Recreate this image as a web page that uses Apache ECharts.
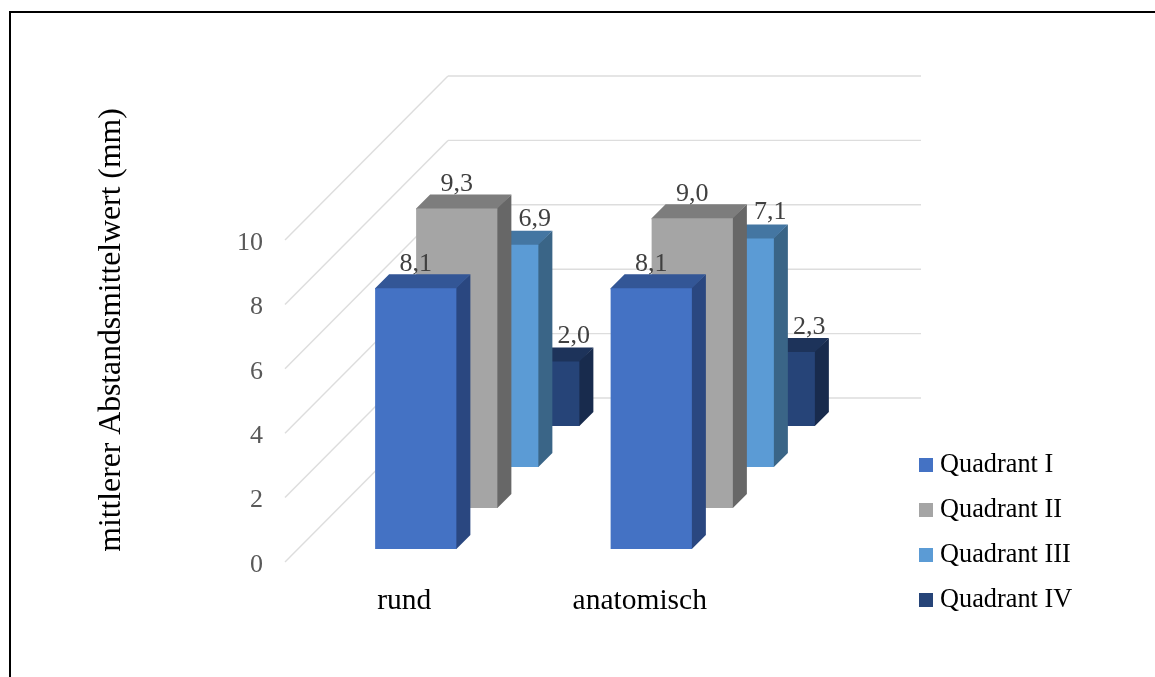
<!DOCTYPE html>
<html>
<head>
<meta charset="utf-8">
<style>html,body{margin:0;padding:0;background:#fff}#chart{width:1155px;height:677px}</style>
<script src="https://cdn.jsdelivr.net/npm/echarts@6/dist/echarts.min.js"></script>
</head>
<body>
<div id="chart"></div>
<script>
// Mean distance per quadrant for the two shapes
const categories = ['rund', 'anatomisch'];
const seriesNames = ['Quadrant I', 'Quadrant II', 'Quadrant III', 'Quadrant IV'];
const quadrantI = [8.1, 8.1];
const quadrantII = [9.3, 9.0];
const quadrantIII = [6.9, 7.1];
const quadrantIV = [2.0, 2.3];
const yTicks = [0, 2, 4, 6, 8, 10];

const FONT = '"Liberation Serif","Times New Roman",serif';
const FRONT = ['#4472C4', '#A5A5A5', '#5B9BD5', '#264478'];
const TOP = ['#335696', '#7D7D7D', '#4476A2', '#1D335A'];
const SIDE = ['#2A4780', '#676767', '#3A6587', '#182B4D'];
// Oblique depth of each bar row, of one bar, and of the whole floor
const ROW_DEPTH = [13, 54, 95, 136];
const BAR_DEPTH = 14;
const WALL_DX = 163;
const WALL_DY = 164;
const WALL_WIDTH = 473;
const BAR_RATIO = 0.345;
// Per-row shift of the value labels relative to the bar's front centre
const LABEL_DX = [0, 0, 37, 35];
const LABEL_DY = [3, 3, 1, 2];

function barRenderer(row) {
  return function (params, api) {
    const idx = api.value(0), val = api.value(1);
    const d = ROW_DEPTH[row];
    const base = api.coord([idx, 0]);
    const top = api.coord([idx, val]);
    const w = api.size([1, 0])[0] * BAR_RATIO;
    const x0 = base[0] + d - w / 2, x1 = x0 + w;
    const yb = base[1] - d, yt = top[1] - d;
    const k = BAR_DEPTH;
    return {
      type: 'group',
      children: [
        // Side and top faces run a pixel under the front face so no seam shows
        { type: 'polygon', shape: { points: [[x1 - 1, yt], [x1 + k, yt - k], [x1 + k, yb - k], [x1, yb], [x1 - 1, yb]] }, style: { fill: SIDE[row] } },
        { type: 'polygon', shape: { points: [[x0, yt + 1], [x0, yt], [x0 + k, yt - k], [x1 + k, yt - k], [x1, yt], [x1, yt + 1]] }, style: { fill: TOP[row] } },
        { type: 'rect', shape: { x: x0, y: yt, width: w, height: yb - yt }, style: { fill: FRONT[row] } },
        { type: 'text', x: base[0] + d + LABEL_DX[row], y: yt - k + LABEL_DY[row],
          style: { text: val.toFixed(1).replace('.', ','), fill: '#404040', font: '26px ' + FONT, align: 'center', verticalAlign: 'bottom' } }
      ]
    };
  };
}

// Back wall rules and the oblique rules on the left wall, one pair per tick
function wallRenderer(params, api) {
  const v = api.value(0);
  const p = api.coord([0, v]);
  const x0 = params.coordSys.x;
  const line = { stroke: '#DDDDDD', lineWidth: 1.4 };
  return {
    type: 'group',
    children: [
      { type: 'line', shape: { x1: x0, y1: p[1], x2: x0 + WALL_DX, y2: p[1] - WALL_DY }, style: line },
      { type: 'line', shape: { x1: x0 + WALL_DX, y1: p[1] - WALL_DY, x2: x0 + WALL_DX + WALL_WIDTH, y2: p[1] - WALL_DY }, style: line }
    ]
  };
}

const rows = [quadrantI, quadrantII, quadrantIII, quadrantIV];
const chart = echarts.init(document.getElementById('chart'), null, { renderer: 'canvas' });
chart.setOption({
  animation: false,
  backgroundColor: '#fff',
  tooltip: { show: false },
  grid: { left: 285, top: 240, width: 471, height: 322 },
  xAxis: {
    type: 'category', data: categories,
    axisLine: { show: false }, axisTick: { show: false }, splitLine: { show: false },
    axisLabel: { color: '#000', fontFamily: FONT, fontSize: 29.5, margin: 24, padding: [0, 0, 0, 3] }
  },
  yAxis: {
    type: 'value', min: 0, max: 10, interval: 2,
    axisLine: { show: false }, axisTick: { show: false }, splitLine: { show: false },
    axisLabel: { color: '#595959', fontFamily: FONT, fontSize: 26, margin: 22, verticalAlign: 'top', lineHeight: 6 }
  },
  legend: {
    orient: 'vertical', left: 914, top: 447, itemWidth: 14, itemHeight: 14, itemGap: 19,
    icon: 'rect', data: seriesNames,
    textStyle: { color: '#000', fontFamily: FONT, fontSize: 26.3, padding: [1, 0, 0, 2] }
  },
  graphic: [
    { type: 'polyline', silent: true, shape: { points: [[10, 677], [10, 12], [1155, 12]] }, style: { stroke: '#000', lineWidth: 2, fill: null } },
    { type: 'text', silent: true, x: 112, y: 330, rotation: Math.PI / 2,
      style: { text: 'mittlerer Abstandsmittelwert (mm)', fill: '#000', font: '31.7px ' + FONT, align: 'center', verticalAlign: 'middle' } }
  ],
  series: [
    { type: 'custom', name: 'wall', coordinateSystem: 'cartesian2d', z: 1, silent: true, renderItem: wallRenderer,
      encode: { y: 0 }, data: yTicks.map(v => [v]) }
  ].concat(rows.map((vals, r) => ({
    type: 'custom', name: seriesNames[r], coordinateSystem: 'cartesian2d', z: 10 - r,
    itemStyle: { color: FRONT[r] },
    renderItem: barRenderer(r),
    encode: { x: 0, y: 1 },
    data: vals.map((v, i) => [i, v])
  })))
});
</script>
</body>
</html>
